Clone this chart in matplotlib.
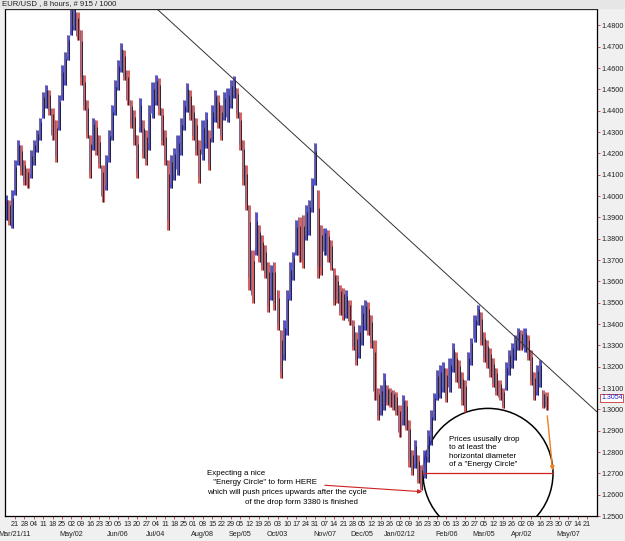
import numpy as np
import matplotlib
matplotlib.use('Agg')
import matplotlib.pyplot as plt
from matplotlib.patches import Ellipse
from matplotlib.transforms import blended_transform_factory

plt.rcParams['font.family'] = ['Liberation Sans', 'DejaVu Sans']

# 8-hour bars, one every third of a week starting one week before Mar/21/11
highs = [1.4005, 1.3981, 1.4028, 1.4169, 1.4263, 1.4239, 1.4169, 1.4131, 1.4216, 1.4263,
         1.4310, 1.4366, 1.4488, 1.4521, 1.4497, 1.4413, 1.4357, 1.4474, 1.4614, 1.4675,
         1.4755, 1.4900, 1.4900, 1.4863, 1.4778, 1.4567, 1.4450, 1.4286, 1.4366, 1.4357,
         1.4286, 1.4146, 1.4192, 1.4310, 1.4427, 1.4544, 1.4638, 1.4718, 1.4685, 1.4591,
         1.4450, 1.4403, 1.4286, 1.4460, 1.4357, 1.4310, 1.4427, 1.4535, 1.4567, 1.4553,
         1.4413, 1.4310, 1.4169, 1.4192, 1.4225, 1.4286, 1.4366, 1.4450, 1.4530, 1.4497,
         1.4427, 1.4366, 1.4263, 1.4357, 1.4394, 1.4310, 1.4427, 1.4497, 1.4474, 1.4427,
         1.4488, 1.4507, 1.4544, 1.4563, 1.4507, 1.4394, 1.4263, 1.4146, 1.3958, 1.3747,
         1.3925, 1.3864, 1.3817, 1.3771, 1.3691, 1.3677, 1.3691, 1.3560, 1.3372, 1.3419,
         1.3560, 1.3691, 1.3738, 1.3888, 1.3902, 1.3911, 1.3958, 1.3981, 1.4085, 1.4249,
         1.4028, 1.3864, 1.3850, 1.3841, 1.3794, 1.3663, 1.3630, 1.3583, 1.3569, 1.3560,
         1.3513, 1.3419, 1.3363, 1.3395, 1.3489, 1.3513, 1.3503, 1.3442, 1.3325, 1.3100,
         1.3114, 1.3170, 1.3114, 1.3100, 1.3091, 1.3081, 1.3020, 1.3067, 1.3044, 1.2950,
         1.2809, 1.2856, 1.2786, 1.2739, 1.2809, 1.2903, 1.2997, 1.3077, 1.3184, 1.3208,
         1.3222, 1.3194, 1.3241, 1.3311, 1.3269, 1.3231, 1.3175, 1.3138, 1.3269, 1.3334,
         1.3442, 1.3489, 1.3456, 1.3363, 1.3325, 1.3288, 1.3241, 1.3194, 1.3138, 1.3100,
         1.3222, 1.3278, 1.3311, 1.3349, 1.3381, 1.3372, 1.3381, 1.3349, 1.3278, 1.3175,
         1.3208, 1.3231, 1.3091, 1.3081]
lows = [1.3888, 1.3864, 1.3850, 1.4005, 1.4146, 1.4099, 1.4052, 1.4038, 1.4085, 1.4146,
        1.4207, 1.4263, 1.4366, 1.4413, 1.4380, 1.4263, 1.4160, 1.4310, 1.4450, 1.4521,
        1.4638, 1.4755, 1.4778, 1.4732, 1.4521, 1.4403, 1.4272, 1.4085, 1.4216, 1.4192,
        1.4131, 1.3972, 1.4028, 1.4160, 1.4263, 1.4380, 1.4497, 1.4582, 1.4544, 1.4427,
        1.4319, 1.4239, 1.4085, 1.4300, 1.4178, 1.4146, 1.4216, 1.4366, 1.4427, 1.4380,
        1.4239, 1.4146, 1.3841, 1.4038, 1.4075, 1.4099, 1.4192, 1.4310, 1.4394, 1.4357,
        1.4263, 1.4192, 1.4061, 1.4169, 1.4225, 1.4122, 1.4253, 1.4347, 1.4319, 1.4263,
        1.4357, 1.4347, 1.4413, 1.4460, 1.4366, 1.4216, 1.4052, 1.3935, 1.3560, 1.3499,
        1.3724, 1.3691, 1.3653, 1.3616, 1.3456, 1.3513, 1.3466, 1.3372, 1.3147, 1.3231,
        1.3349, 1.3513, 1.3606, 1.3724, 1.3691, 1.3663, 1.3794, 1.3817, 1.3925, 1.4052,
        1.3616, 1.3630, 1.3724, 1.3691, 1.3653, 1.3489, 1.3499, 1.3442, 1.3419, 1.3428,
        1.3395, 1.3278, 1.3208, 1.3241, 1.3302, 1.3372, 1.3349, 1.3288, 1.3044, 1.2950,
        1.2974, 1.2997, 1.3020, 1.3011, 1.2997, 1.2974, 1.2870, 1.2927, 1.2903, 1.2730,
        1.2692, 1.2725, 1.2655, 1.2622, 1.2678, 1.2753, 1.2833, 1.2950, 1.3044, 1.3053,
        1.3081, 1.3034, 1.3081, 1.3175, 1.3128, 1.3100, 1.3020, 1.2988, 1.3138, 1.3208,
        1.3316, 1.3395, 1.3302, 1.3222, 1.3194, 1.3152, 1.3105, 1.3067, 1.3044, 1.3006,
        1.3091, 1.3161, 1.3194, 1.3231, 1.3278, 1.3278, 1.3269, 1.3231, 1.3114, 1.3044,
        1.3067, 1.3105, 1.3006, 1.2997]
last_close = 1.3054

day_labels = ['21', '28', '04', '11', '18', '25', '02', '09', '16', '23', '30', '06', '13',
              '20', '27', '04', '11', '18', '25', '01', '08', '15', '22', '29', '05', '12',
              '19', '26', '03', '10', '17', '24', '31', '07', '14', '21', '28', '05', '12',
              '19', '26', '02', '09', '16', '23', '30', '06', '13', '20', '27', '05', '12',
              '19', '26', '02', '09', '16', '23', '30', '07', '14', '21']
month_pos = [0, 6, 11, 15, 20, 24, 28, 33, 37, 41, 46, 50, 54, 59]
month_labels = ['Mar/21/11', 'May/02', 'Jun/06', 'Jul/04', 'Aug/08', 'Sep/05', 'Oct/03',
                'Nov/07', 'Dec/05', 'Jan/02/12', 'Feb/06', 'Mar/05', 'Apr/02', 'May/07']
price_ticks = np.round(np.arange(1.25, 1.4801, 0.01), 2)

trend_x = [15.14, 62.05]
trend_y = [1.4877, 1.2988]
circle_center = (50.43, 1.2700)
circle_w, circle_h = 13.86, 0.0609

fig = plt.figure(figsize=(6.25, 5.41), dpi=100, facecolor='#F0F0F0')
ax = fig.add_axes([5/625, 1 - 516/541, 592/625, 507/541])
ax.set_facecolor('white')
ax.set_xlim(-1.066, 62.05)
ax.set_ylim(1.25, 1.4877)

highs = np.array(highs); lows = np.array(lows)
weeks = -1 + np.arange(len(highs)) / 3
mids = (highs + lows) / 2
up = np.r_[True, mids[1:] >= mids[:-1]]
cols = np.where(up, '#3434c0', '#d04848')
ax.vlines(weeks, lows, highs, colors=cols, lw=2.2, alpha=0.85)
ax.vlines(weeks - 0.12, lows + 0.15 * (highs - lows), highs, colors='#7a6a8a', lw=0.7)
ax.vlines(weeks + 0.1, lows, highs - 0.2 * (highs - lows), colors='#1a1a2a', lw=0.6)

ax.plot(trend_x, trend_y, color='#333333', lw=0.7)
ax.add_patch(Ellipse(circle_center, circle_w, circle_h, fill=False, ec='black', lw=1.1))
ax.plot([circle_center[0] - circle_w/2, circle_center[0] + circle_w/2],
        [circle_center[1]] * 2, color='#cc2222', lw=0.9)
ax.annotate('', xy=(57.36, 1.2700), xytext=(56.72, 1.2983),
            arrowprops=dict(arrowstyle='-|>', color='#f08020', lw=1.0, mutation_scale=6))
ax.annotate('', xy=(43.71, 1.2613), xytext=(32.73, 1.2645),
            arrowprops=dict(arrowstyle='-|>', color='#cc2222', lw=0.8, mutation_scale=6))

note_fs = 5.7
ax.text(20.5, 1.2697, 'Expecting a nice', fontsize=note_fs, va='center')
ax.text(20.9, 1.2655, ' "Energy Circle" to form HERE', fontsize=note_fs, va='center')
ax.text(20.5, 1.2608, 'which will push prices upwards after the cycle', fontsize=note_fs, va='center')
ax.text(24.5, 1.2561, 'of the drop form 3380 is finished', fontsize=note_fs, va='center')
ax.text(46.3, 1.2800, 'Prices ususally drop\nto at least the\nhorizontal diameter\nof a "Energy Circle"',
        fontsize=note_fs, va='center', linespacing=1.3)

ax.yaxis.tick_right()
ax.set_yticks(price_ticks)
ax.set_yticklabels([f'{p:.4f}' for p in price_ticks])
ax.tick_params(axis='y', direction='out', length=2.5, width=0.6, color='#cc3333',
               labelsize=5.2, pad=1, labelcolor='#222222')
ax.set_xticks(np.arange(len(day_labels)))
ax.set_xticklabels(day_labels)
ax.tick_params(axis='x', direction='out', length=2, width=0.6, color='#cc3333',
               labelsize=5.2, pad=1.5, labelcolor='#222222')
tr = blended_transform_factory(ax.transData, ax.transAxes)
for pos, lab in zip(month_pos, month_labels):
    ax.text(pos, -0.036, lab, transform=tr, ha='center', va='center', fontsize=5.2,
            color='#222222')
for s in ax.spines.values():
    s.set_color('black'); s.set_linewidth(0.9)

ytr = blended_transform_factory(ax.transAxes, ax.transData)
ax.text(1.007, last_close, f'{last_close:.4f}', transform=ytr, fontsize=5.0, color='#2222cc',
        va='center', ha='left',
        bbox=dict(boxstyle='square,pad=0.12', fc='white', ec='#cc3333', lw=0.6))

fig.patches.append(plt.Rectangle((0, 1 - 8/541), 1, 8/541, transform=fig.transFigure,
                                 color='#E6E6E6', zorder=0))
fig.text(2/625, 1 - 4/541, 'EUR/USD , 8 hours, # 915 / 1000', fontsize=5.6, va='center',
         color='#222222')

fig.savefig('out.png', dpi=100, facecolor=fig.get_facecolor())
